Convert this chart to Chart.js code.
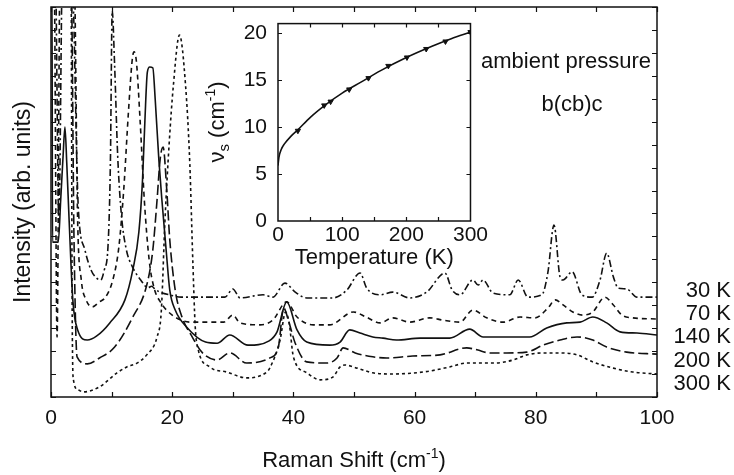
<!DOCTYPE html>
<html>
<head>
<meta charset="utf-8">
<script src="https://cdn.jsdelivr.net/npm/chart.js@4.4.0/dist/chart.umd.min.js"></script>
<style>
  html, body { margin: 0; padding: 0; background: #fff; }
  #wrap { position: relative; width: 734px; height: 475px; }
  #main { position: absolute; left: 0; top: 0; }
  #inset { position: absolute; left: 200px; top: 0; }
</style>
</head>
<body>
<div id="wrap">
  <canvas id="main" width="734" height="475"></canvas>
  <canvas id="inset" width="290" height="275"></canvas>
</div>
<script>
// -- data (intensities in arbitrary units, 0..100 = frame height)
const shift30 = [0, 0.7, 1.3, 1.9, 3.4, 4.5, 5.6, 6.6, 7.5, 8.2, 8.8, 9.4, 9.8, 10.1, 10.5, 11.0, 11.6, 12.4, 13.4, 14.8, 16.0, 16.6, 17.2, 18.0, 19.5, 21.5, 28.7, 30.0, 31.2, 35.0, 36.6, 38.6, 40.3, 42.2, 46.5, 48.8, 51.0, 52.1, 54.3, 56.4, 59.2, 62.0, 65.0, 66.2, 67.5, 69.6, 70.5, 71.3, 72.9, 75.7, 77.1, 78.7, 81.0, 82.0, 83.0, 84.0, 84.5, 86.0, 87.6, 89.3, 90.6, 91.7, 92.8, 93.6, 95.0, 96.7, 100];
const int30 = [110, 110, 44.9, 110, 110, 48.7, 37.7, 32.6, 30.5, 30.0, 32.6, 38.5, 60, 99, 85, 62, 47, 38, 33.5, 30.0, 28.0, 28.4, 27.6, 26.9, 26.2, 25.6, 25.6, 27.7, 25.4, 26.2, 25.6, 29.2, 26.9, 25.4, 25.4, 27.4, 31.8, 27.9, 26.2, 26.9, 25.4, 26.9, 31.8, 27.4, 26.2, 30.0, 28.7, 30.0, 26.7, 26.2, 30.0, 25.6, 26.2, 32, 44.1, 30.8, 30.0, 32.1, 26.2, 25.6, 30.0, 36.9, 30.8, 27.9, 27.7, 25.6, 25.6];

const shift70 = [0, 0.5, 1.0, 1.5, 3.8, 4.4, 5.0, 5.8, 6.8, 8.0, 9.0, 10.2, 11.2, 12.0, 12.8, 13.4, 13.7, 14.1, 14.7, 15.4, 16.2, 17.0, 18.0, 20.0, 23.0, 28.5, 30.0, 31.2, 34.5, 36.6, 38.9, 40.6, 43.3, 46.0, 49.9, 52.0, 54.3, 56.4, 59.2, 62.5, 64.7, 67.5, 69.6, 71.9, 74.6, 77.4, 79.9, 82.0, 83.2, 84.5, 86.1, 87.8, 89.4, 91.4, 92.8, 94.2, 96.0, 100];
const int70 = [110, 110, 15.4, 110, 110, 44.9, 30.0, 24.9, 23.1, 24.4, 25.6, 30.0, 38.5, 53.1, 73.6, 86.4, 88.5, 85.9, 71.0, 50.5, 35.1, 28.0, 24.5, 21.0, 19.2, 19.2, 21.0, 19.0, 18.5, 19.7, 24.4, 20.5, 18.5, 18.5, 21.8, 20.5, 19.0, 20.3, 19.2, 20.3, 19.7, 19.2, 22.3, 20.3, 19.2, 20.5, 20.3, 22.8, 24.9, 23.6, 21.8, 21.0, 21.8, 25.6, 23.6, 21.0, 20.3, 20.0];

const shift140 = [0, 0.15, 0.25, 1.2, 1.6, 2.0, 2.3, 2.6, 3.0, 3.6, 4.4, 6.0, 7.5, 9.7, 12.2, 13.5, 14.5, 15.1, 15.5, 15.9, 16.3, 16.8, 17.2, 17.8, 18.3, 19.0, 19.6, 20.5, 22.4, 25.5, 27.4, 29.5, 32.5, 36.0, 37.3, 38.9, 40.6, 42.2, 46.0, 47.7, 49.3, 51.0, 53.1, 54.8, 57.0, 60.9, 65.8, 69.1, 71.3, 74.6, 79.0, 81.8, 85.1, 87.3, 89.4, 91.7, 93.9, 96.7, 100];
const int140 = [110, 110, 39.7, 39.7, 50.5, 62, 69.2, 60, 45, 24.9, 17.2, 14.6, 15.6, 19.0, 24.9, 32.6, 42.3, 55.6, 71.0, 83.3, 84.6, 84.4, 76.2, 60.8, 50.5, 37.7, 27.4, 22.3, 17.9, 14.1, 13.8, 15.9, 13.3, 14.4, 16.7, 24.4, 17.2, 14.1, 13.3, 14.1, 17.2, 16.4, 15.4, 15.1, 14.6, 15.1, 15.1, 17.4, 15.4, 15.4, 15.4, 17.7, 19.0, 19.2, 20.5, 19.0, 16.7, 16.4, 15.9];

const shift200 = [0, 3.3, 3.8, 4.3, 6.0, 8.0, 10.5, 13.5, 15.8, 16.8, 17.5, 18.0, 18.5, 19.1, 19.6, 20.5, 21.5, 23.3, 25.0, 27.4, 29.5, 32.3, 36.1, 37.5, 38.4, 39.2, 40.3, 42.2, 45.5, 47.2, 48.2, 50.2, 53.1, 55.4, 59.7, 64.2, 68.6, 70.3, 72.4, 75.2, 78.5, 81.2, 84.0, 86.8, 89.4, 91.7, 95.0, 100];
const int200 = [110, 110, 40, 10.3, 8.5, 10.0, 12.8, 20.5, 28.7, 37.7, 50.5, 60.8, 64.1, 53.1, 40.3, 27.4, 21.0, 15.4, 11.3, 9.5, 11.3, 8.7, 10.0, 12.6, 22.8, 19.5, 13.8, 9.0, 8.7, 10.0, 12.6, 11.3, 10.3, 10.0, 10.5, 10.8, 12.6, 12.1, 11.3, 11.3, 11.5, 13.3, 14.6, 15.4, 14.6, 12.8, 11.5, 11.0];

const shift300 = [0, 3.3, 3.5, 3.7, 4.5, 5.3, 8.0, 10.9, 12.5, 14.2, 15.8, 17.5, 18.2, 18.8, 19.5, 20.2, 21.2, 22.2, 22.9, 23.4, 23.8, 24.3, 26.2, 29.0, 32.3, 35.6, 36.1, 37.8, 38.7, 39.3, 40.0, 42.2, 44.4, 46.5, 47.7, 48.5, 50.5, 53.1, 56.0, 61.4, 65.8, 68.6, 73.0, 76.3, 78.5, 81.2, 84.0, 86.8, 89.4, 92.8, 96.0, 100];
const int300 = [110, 110, 20.5, 4.4, 1.8, 1.3, 2.6, 6.2, 7.7, 8.7, 10.8, 15.4, 22, 45, 65, 80, 92.8, 80, 60, 35, 18, 12.1, 7.7, 6.4, 4.9, 6.4, 7.4, 14.6, 21.8, 19.0, 10.3, 6.2, 4.4, 5.1, 7.7, 8.2, 7.4, 6.2, 5.9, 6.4, 7.7, 8.7, 8.7, 9.5, 10.8, 11.3, 11.3, 10.8, 9.0, 7.4, 6.4, 5.9];

const tempLabels = ["30 K", "70 K", "140 K", "200 K", "300 K"];
const xTickValues = [0, 10, 20, 30, 40, 50, 60, 70, 80, 90, 100];

// inset: soft mode frequency vs temperature
const tempPts = [31, 72, 82, 111, 141, 172, 201, 231, 261, 300];
const nuPts = [9.6, 12.3, 12.7, 14.0, 15.2, 16.5, 17.4, 18.3, 19.1, 20.1];
const tempFit = [0, 1.5, 5, 10, 20, 31, 50, 75, 100, 130, 160, 200, 240, 270, 300];
const nuFit = [5.9, 6.8, 7.6, 8.2, 9.0, 9.7, 11.0, 12.4, 13.6, 14.8, 16.0, 17.4, 18.6, 19.4, 20.1];

// -- helpers
const FONT = "'Liberation Sans', Arial, Helvetica, sans-serif";
const INK = "#111";
function pts(xs, ys) {
  return xs.map((x, i) => ({ x: x, y: ys[i] }));
}
function curve(xs, ys, dash) {
  return {
    data: pts(xs, ys),
    borderColor: INK,
    borderWidth: 1.6,
    borderDash: dash,
    pointRadius: 0,
    cubicInterpolationMode: "monotone",
    clip: 0,
  };
}

// frame + inward ticks on all four sides
const framePlugin = {
  id: "frame",
  afterDatasetsDraw(chart, args, opts) {
    const { ctx, chartArea: a, scales } = chart;
    ctx.save();
    ctx.strokeStyle = INK;
    ctx.lineWidth = 1.5;
    ctx.strokeRect(a.left, a.top, a.right - a.left, a.bottom - a.top);
    ctx.lineWidth = 1.2;
    ctx.beginPath();
    opts.xTicks.forEach((v) => {
      const px = Math.round(scales.x.getPixelForValue(v)) + 0.5;
      ctx.moveTo(px, a.bottom);
      ctx.lineTo(px, a.bottom - opts.len);
      ctx.moveTo(px, a.top);
      ctx.lineTo(px, a.top + opts.len);
    });
    opts.yTicks.forEach((v) => {
      const py = Math.round(scales.y.getPixelForValue(v)) + 0.5;
      ctx.moveTo(a.left, py);
      ctx.lineTo(a.left + opts.len, py);
      ctx.moveTo(a.right, py);
      ctx.lineTo(a.right - opts.len, py);
    });
    ctx.stroke();
    ctx.restore();
  },
};

// text pieces drawn with sub/superscripts
function drawRich(ctx, parts, x, y, rot) {
  ctx.save();
  ctx.translate(x, y);
  if (rot) ctx.rotate(rot);
  ctx.fillStyle = INK;
  ctx.textBaseline = "alphabetic";
  ctx.textAlign = "left";
  let total = 0;
  parts.forEach((p) => {
    ctx.font = p[1] + "px " + FONT;
    total += ctx.measureText(p[0]).width;
  });
  let cx = -total / 2;
  parts.forEach((p) => {
    ctx.font = p[1] + "px " + FONT;
    ctx.fillText(p[0], cx, p[2]);
    cx += ctx.measureText(p[0]).width;
  });
  ctx.restore();
}

const mainText = {
  id: "mainText",
  afterDraw(chart) {
    const ctx = chart.ctx;
    drawRich(ctx, [["Raman Shift (cm", 22, 0], ["-1", 14, -9], [")", 22, 0]], 354, 467, 0);
    ctx.save();
    ctx.fillStyle = INK;
    ctx.font = "22px " + FONT;
    ctx.textAlign = "right";
    const base = [297, 320, 343, 367, 390];
    tempLabels.forEach((t, i) => ctx.fillText(t, 731, base[i]));
    ctx.textAlign = "center";
    ctx.fillText("ambient pressure", 566, 68);
    ctx.fillText("b(cb)c", 572, 111);
    ctx.restore();
  },
};

// -- main chart
const yTickValues = Array.from({ length: 18 }, (_, i) => (i * 100) / 17);
new Chart(document.getElementById("main"), {
  type: "line",
  data: {
    datasets: [
      curve(shift30, int30, [7, 3, 2, 3]),
      curve(shift70, int70, [5, 4]),
      curve(shift140, int140, []),
      curve(shift200, int200, [10, 4]),
      curve(shift300, int300, [3, 3]),
    ],
  },
  options: {
    responsive: false,
    animation: false,
    devicePixelRatio: 1,
    layout: { padding: { left: 0, top: 7, right: 77, bottom: 0 } },
    plugins: {
      legend: { display: false },
      tooltip: { enabled: false },
      frame: { xTicks: xTickValues, yTicks: yTickValues, len: 5 },
    },
    scales: {
      x: {
        type: "linear",
        min: 0,
        max: 100,
        grid: { display: false, drawTicks: false },
        border: { display: false },
        ticks: { stepSize: 20, color: INK, font: { family: FONT, size: 21 }, padding: 9, maxRotation: 0 },
        afterFit: (s) => { s.height = 78; },
      },
      y: {
        type: "linear",
        min: 0,
        max: 100,
        grid: { display: false, drawTicks: false },
        border: { display: false },
        ticks: { display: false },
        afterBuildTicks: (ax) => { ax.ticks = yTickValues.map((v) => ({ value: v })); },
        title: {
          display: true,
          text: "Intensity (arb. units)",
          color: INK,
          font: { family: FONT, size: 23 },
          padding: { top: 10, bottom: 0 },
        },
        afterFit: (s) => { s.width = 51; },
      },
    },
  },
  plugins: [framePlugin, mainText],
});

// -- inset
const insetText = {
  id: "insetText",
  afterDraw(chart) {
    drawRich(chart.ctx, [["\u03bd", 22, 0], ["s", 15, 5], [" (cm", 22, 0], ["-1", 14, -9], [")", 22, 0]], 24, 122, -Math.PI / 2);
  },
};

new Chart(document.getElementById("inset"), {
  type: "line",
  data: {
    datasets: [
      {
        data: pts(tempFit, nuFit),
        borderColor: INK,
        borderWidth: 1.6,
        pointRadius: 0,
        cubicInterpolationMode: "monotone",
      },
      {
        data: pts(tempPts, nuPts),
        showLine: false,
        pointStyle: "triangle",
        rotation: 180,
        pointRadius: 3,
        pointBackgroundColor: INK,
        pointBorderColor: INK,
        pointBorderWidth: 1,
      },
    ],
  },
  options: {
    responsive: false,
    animation: false,
    devicePixelRatio: 1,
    layout: { padding: { left: 0, top: 12, right: 14, bottom: 0 } },
    plugins: {
      legend: { display: false },
      tooltip: { enabled: false },
      frame: { xTicks: [50, 100, 150, 200, 250], yTicks: [5, 10, 15, 20], len: 4 },
    },
    scales: {
      x: {
        type: "linear",
        min: 0,
        max: 300,
        grid: { display: false, drawTicks: false },
        border: { display: false },
        ticks: { stepSize: 100, color: INK, font: { family: FONT, size: 21 }, padding: 2, maxRotation: 0 },
        title: {
          display: true,
          text: "Temperature (K)",
          color: INK,
          font: { family: FONT, size: 22 },
          padding: { top: 0, bottom: 4 },
        },
        afterFit: (s) => { s.height = 54; },
      },
      y: {
        type: "linear",
        min: 0,
        max: 21,
        grid: { display: false, drawTicks: false },
        border: { display: false },
        afterBuildTicks: (ax) => { ax.ticks = [0, 5, 10, 15, 20].map((v) => ({ value: v })); },
        ticks: { color: INK, font: { family: FONT, size: 21 }, padding: 11 },
        afterFit: (s) => { s.width = 78; },
      },
    },
  },
  plugins: [framePlugin, insetText],
});
</script>
</body>
</html>
